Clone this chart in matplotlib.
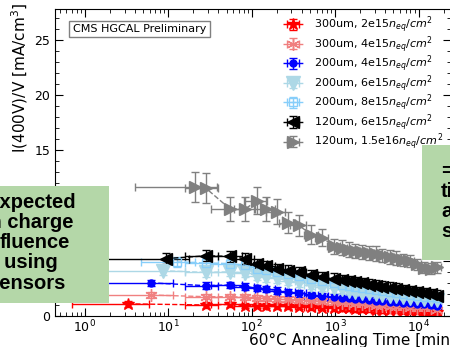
import matplotlib
matplotlib.use("Agg")
import matplotlib.pyplot as plt
from matplotlib.patches import Rectangle

# annealing steps shared by all samples [min] and their time uncertainty
t_steps = [28, 55, 84, 116, 150, 200, 275, 370, 520, 700, 980, 1200, 1450, 1750,
           2100, 2550, 3100, 3700, 4500, 5400, 6500, 7900, 9500, 11500, 14000, 16500]
t_steps_err = [12, 22, 22, 35, 40, 50, 60, 80, 100, 130, 170, 200, 230, 260,
               300, 350, 420, 500, 600, 700, 850, 1000, 1200, 1400, 1700, 2000]

# first measurement of each sample (time, time error)
t0_300_2e15, dt0_300_2e15 = 3.3, 2.6
t0_300_4e15, dt0_300_4e15 = 6.3, 5.0
t0_200_4e15, dt0_200_4e15 = 6.2, 5.2
t0_200_6e15, dt0_200_6e15 = 8.6, 7.5
t0_200_8e15, dt0_200_8e15 = 12.7, 8.0
t0_120_6e15, dt0_120_6e15 = 9.4, 8.5
t0_120_15e15, dt0_120_15e15 = 21, 17

# I(400V)/V in mA/cm^3
i_300_2e15 = [1.1, 1.0, 1.05, 0.95, 0.95, 0.95, 0.9, 0.9, 0.85, 0.8, 0.75, 0.72, 0.7, 0.68,
              0.65, 0.62, 0.6, 0.57, 0.55, 0.52, 0.5, 0.48, 0.45, 0.42, 0.4, 0.38, 0.35]
i_300_4e15 = [1.9, 1.75, 1.75, 1.7, 1.65, 1.6, 1.55, 1.5, 1.45, 1.4, 1.32, 1.25, 1.2, 1.15,
              1.1, 1.05, 1.0, 0.95, 0.9, 0.85, 0.8, 0.78, 0.75, 0.72, 0.7, 0.68, 0.5]
i_200_4e15 = [3.0, 2.75, 2.8, 2.65, 2.55, 2.45, 2.3, 2.15, 2.05, 1.9, 1.8, 1.7, 1.65, 1.6,
              1.55, 1.5, 1.45, 1.4, 1.35, 1.3, 1.25, 1.2, 1.15, 1.1, 1.05, 1.0, 0.95]
i_200_6e15 = [4.1, 3.95, 4.0, 3.9, 3.65, 3.5, 3.4, 3.2, 3.05, 2.8, 2.65, 2.5, 2.4, 2.3,
              2.2, 2.1, 2.05, 2.0, 1.9, 1.85, 1.8, 1.7, 1.65, 1.6, 1.55, 1.5, 1.45]
i_200_8e15 = [4.9, 4.8, 4.75, 4.6, 4.3, 4.15, 3.95, 3.8, 3.6, 3.35, 3.15, 2.95, 2.85, 2.75,
              2.65, 2.55, 2.45, 2.35, 2.25, 2.15, 2.05, 1.95, 1.9, 1.8, 1.75, 1.7, 1.65]
i_120_6e15 = [5.2, 5.45, 5.4, 5.2, 4.7, 4.5, 4.25, 4.1, 3.95, 3.7, 3.5, 3.35, 3.25, 3.15,
              3.05, 2.95, 2.85, 2.75, 2.65, 2.55, 2.45, 2.35, 2.25, 2.15, 2.05, 1.95, 1.85]
i_120_15e15 = [11.65, 11.6, 9.7, 9.7, 10.45, 9.7, 9.45, 8.45, 8.2, 7.35, 7.1, 6.3, 6.2, 6.0,
               5.9, 5.8, 5.7, 5.65, 5.5, 5.35, 5.25, 5.1, 5.0, 4.7, 4.35, 4.3, 4.4]
i_120_15e15_err = [1.35, 1.35, 1.1, 1.1, 1.2, 1.1, 1.1, 0.95, 0.95, 0.85, 0.8, 0.7, 0.7, 0.7,
                   0.65, 0.65, 0.65, 0.65, 0.6, 0.6, 0.6, 0.55, 0.55, 0.5, 0.5, 0.5, 0.5]

samples = [
    ("300um, 2e15$n_{eq}/cm^2$", t0_300_2e15, dt0_300_2e15, i_300_2e15, 0.25, "red", "*", 9, "red"),
    ("300um, 4e15$n_{eq}/cm^2$", t0_300_4e15, dt0_300_4e15, i_300_4e15, 0.25, "lightcoral", (6, 2, 0), 9, "lightcoral"),
    ("200um, 4e15$n_{eq}/cm^2$", t0_200_4e15, dt0_200_4e15, i_200_4e15, 0.3, "blue", "o", 5, "blue"),
    ("200um, 6e15$n_{eq}/cm^2$", t0_200_6e15, dt0_200_6e15, i_200_6e15, 0.4, "lightblue", "v", 10, "lightblue"),
    ("200um, 8e15$n_{eq}/cm^2$", t0_200_8e15, dt0_200_8e15, i_200_8e15, 0.45, "lightskyblue", "s", 6, "none"),
    ("120um, 6e15$n_{eq}/cm^2$", t0_120_6e15, dt0_120_6e15, i_120_6e15, 0.5, "black", "<", 9, "black"),
    ("120um, 1.5e16$n_{eq}/cm^2$", t0_120_15e15, dt0_120_15e15, i_120_15e15, i_120_15e15_err, "gray", ">", 9, "gray"),
]

W, H = 450, 347
fig = plt.figure(figsize=(W / 100, H / 100), dpi=100)
ax = fig.add_axes([55 / W, 1 - 316 / H, (451 - 55) / W, (316 - 9) / H])

for label, t0, dt0, vals, verr, col, mk, ms, mfc in samples:
    times = [t0] + t_steps
    terr = [dt0] + t_steps_err
    ax.errorbar(times, vals, xerr=terr, yerr=verr, fmt="--", color=col, marker=mk,
                markersize=ms, markerfacecolor=mfc, markeredgecolor=col, lw=1,
                elinewidth=1, capsize=3, label=label)

ax.set_xscale("log")
ax.set_xlim(0.44, 2.45e4)
ax.set_ylim(0, 27.8)
ax.set_yticks([0, 5, 10, 15, 20, 25])
ax.set_yticks(range(0, 28), minor=True)
ax.tick_params(which="both", direction="in", top=True, right=True, labelsize=9)
ax.tick_params(axis="x", pad=2)
ax.tick_params(which="major", length=6)
ax.tick_params(which="minor", length=3)

ax.set_xlabel("60°C Annealing Time [min]", fontsize=11, ha="right", x=1.012, labelpad=-2)
ax.set_ylabel("I(400V)/V [mA/cm$^3$]", fontsize=11, ha="right", y=1.02, labelpad=3)

ax.text(0.045, 0.935, "CMS HGCAL Preliminary", transform=ax.transAxes, fontsize=8,
        va="center", ha="left",
        bbox=dict(boxstyle="square,pad=0.3", fc="white", ec="gray", lw=1))

ax.legend(loc="upper left", frameon=False, fontsize=8, handlelength=1.8,
          handleheight=0.5, handletextpad=1.0, labelspacing=-0.13,
          borderpad=0, borderaxespad=0,
          bbox_to_anchor=((283 - 55) / 396, 1 - (14 - 9) / 307))

# slide boxes laid over the plot
green = "#b4d7a8"
fig.add_artist(Rectangle((0, 1 - 303 / H), 109 / W, 117 / H, transform=fig.transFigure,
                         facecolor=green, edgecolor="none", zorder=10))
fig.add_artist(Rectangle((422 / W, 1 - 260 / H), 28 / W, 115 / H, transform=fig.transFigure,
                         facecolor=green, edgecolor="none", zorder=10))

left_lines = [("Expected", -13.5, 208), ("in charge", -16, 228), ("fluence", -0.5, 248),
              ("by using", -25, 268), ("sensors", -11.5, 289)]
for s, px, py in left_lines:
    fig.text(px / W, 1 - py / H, s, fontsize=14.5, fontweight="bold", family="Liberation Sans",
             ha="left", va="baseline", zorder=11)

right_lines = [("=", 441, 177), ("ti", 441, 197), ("a", 441, 217), ("s", 441, 237)]
for s, px, py in right_lines:
    fig.text(px / W, 1 - py / H, s, fontsize=14.5, fontweight="bold", family="Liberation Sans",
             ha="left", va="baseline", zorder=11)

fig.savefig("out.png", dpi=100)
